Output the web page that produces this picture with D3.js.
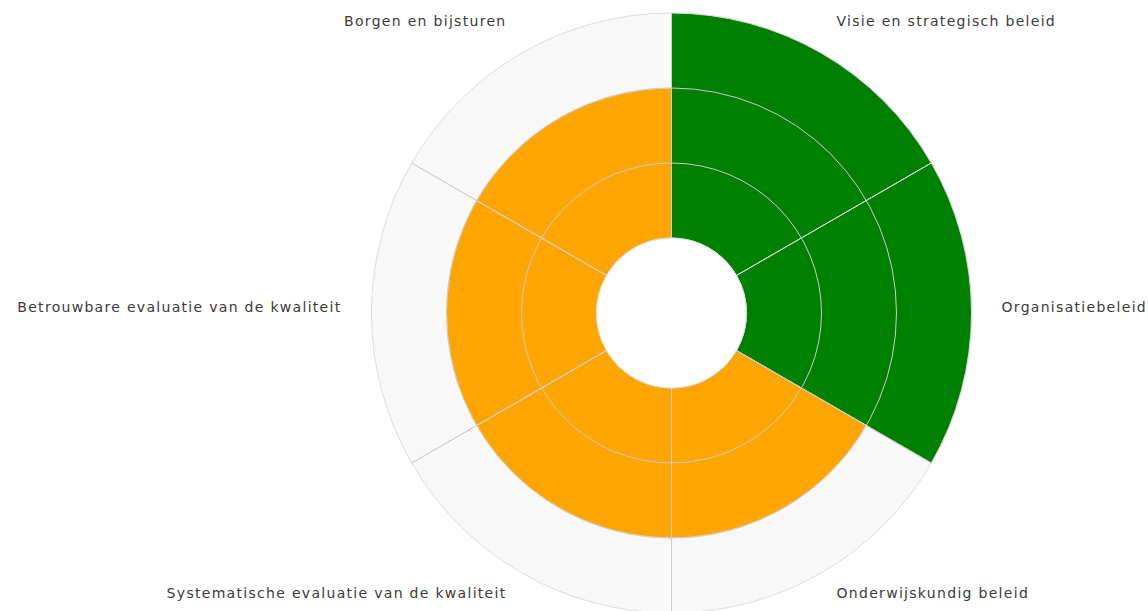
<!DOCTYPE html>
<html>
<head>
<meta charset="utf-8">
<script src="https://cdn.jsdelivr.net/npm/d3@7"></script>
<style>
  body { margin: 0; background: #fff; }
  text { font-family: "DejaVu Sans", sans-serif; font-size: 14px; letter-spacing: 1.3px; fill: #3a3a3a; }
</style>
</head>
<body>
<svg width="1148" height="611"></svg>
<script>
// categories, clockwise from the top
var categories = ['Visie en strategisch beleid', 'Organisatiebeleid', 'Onderwijskundig beleid',
  'Systematische evaluatie van de kwaliteit', 'Betrouwbare evaluatie van de kwaliteit', 'Borgen en bijsturen'];
var scores = [3, 3, 2, 2, 2, 2];
var colours = ['green', 'green', 'orange', 'orange', 'orange', 'orange'];
var levels = [1, 2, 3];
var maxLevel = 3;

var svg = d3.select('svg');
var g = svg.append('g').attr('transform', 'translate(671.5,313)');

var r = d3.scaleLinear().domain([0, maxLevel]).range([75, 300]);
var step = 2 * Math.PI / categories.length;

var arc = d3.arc()
  .innerRadius(r(0))
  .outerRadius(function(d) { return r(d.v); })
  .startAngle(function(d) { return d.i * step; })
  .endAngle(function(d) { return (d.i + 1) * step; });

// grey background sectors
g.selectAll('.bg').data(categories.map(function(c, i) { return {i: i, v: maxLevel}; }))
  .enter().append('path').attr('class', 'bg')
  .attr('d', arc).attr('fill', '#f8f8f8').attr('stroke', '#ddd').attr('stroke-width', 1);

// score sectors
g.selectAll('.bar').data(scores.map(function(s, i) { return {i: i, v: s}; }))
  .enter().append('path').attr('class', 'bar')
  .attr('d', arc).attr('fill', function(d) { return colours[d.i]; })
  .attr('stroke', '#ddd').attr('stroke-width', 1);

// rings
g.selectAll('.ring').data(levels.slice(0, -1))
  .enter().append('circle').attr('class', 'ring')
  .attr('r', function(d) { return r(d); })
  .attr('fill', 'none').attr('stroke', '#ccc').attr('stroke-width', 1);

// spokes
g.selectAll('.spoke').data(categories)
  .enter().append('line').attr('class', 'spoke')
  .attr('x1', function(d, i) { return r(0) * Math.sin(i * step); })
  .attr('y1', function(d, i) { return -r(0) * Math.cos(i * step); })
  .attr('x2', function(d, i) { return r(maxLevel) * Math.sin(i * step); })
  .attr('y2', function(d, i) { return -r(maxLevel) * Math.cos(i * step); })
  .attr('stroke', '#ccc').attr('stroke-width', 1);

// hole
g.append('circle').attr('r', r(0)).attr('fill', '#fff').attr('stroke', '#ddd');

// labels
var labelR = 330;
g.selectAll('.lbl').data(categories)
  .enter().append('text').attr('class', 'lbl')
  .attr('x', function(d, i) { return labelR * Math.sin((i + 0.5) * step); })
  .attr('y', function(d, i) { return -labelR * Math.cos((i + 0.5) * step) - 1; })
  .attr('text-anchor', function(d, i) { return Math.sin((i + 0.5) * step) > 0 ? 'start' : 'end'; })
  .text(function(d) { return d; });
</script>
</body>
</html>
